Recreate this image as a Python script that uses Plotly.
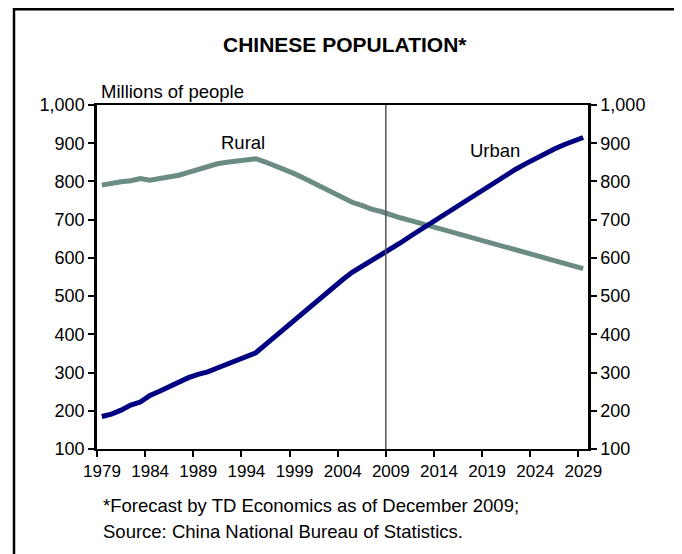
import plotly.graph_objects as go

# ---- data (millions of people) ----
years = list(range(1979, 2030))
urban = [184.95, 191.40, 201.71, 214.80, 222.74, 240.17, 250.94, 263.66, 276.74, 286.61,
         295.40, 301.95, 312.03, 321.75, 331.73, 341.69, 351.74, 373.04, 394.49, 416.08,
         437.48, 459.06, 480.64, 502.12, 523.76, 542.83, 562.12, 577.06, 593.79, 606.67,
         622, 639, 656, 672, 689, 706, 722, 739, 755, 771,
         787, 802, 817, 832, 846, 860, 873, 885, 896, 906, 915]
rural = [790.47, 795.65, 799.01, 801.74, 807.34, 803.40, 807.57, 811.41, 816.26, 823.65,
         831.64, 841.38, 846.20, 849.96, 853.44, 856.81, 859.47, 850.85, 841.77, 831.53,
         820.38, 808.37, 795.63, 782.41, 768.51, 757.05, 745.44, 737.42, 727.50, 721.35,
         712, 705, 698, 691, 684, 677, 670, 662, 655, 648,
         640, 633, 626, 619, 612, 605, 598, 591, 585, 578, 572]
forecast_start = 2009
tick_years = list(range(1979, 2030, 5))
y_ticks = list(range(100, 1001, 100))

URBAN_C = "#000080"
RURAL_C = "#6B8C84"
FONT = "Liberation Sans, Arial, sans-serif"

fig = go.Figure()
fig.add_trace(go.Scatter(x=years, y=rural, mode="lines", name="Rural",
                         line=dict(color=RURAL_C, width=5), hoverinfo="skip"))
fig.add_trace(go.Scatter(x=years, y=urban, mode="lines", name="Urban",
                         line=dict(color=URBAN_C, width=5), hoverinfo="skip"))
# invisible trace to anchor the right axis
fig.add_trace(go.Scatter(x=[years[0]], y=[urban[0]], yaxis="y2", mode="lines",
                         line=dict(width=0), showlegend=False, hoverinfo="skip"))

fig.add_shape(type="line", xref="x", yref="y",
              x0=forecast_start - 0.5, x1=forecast_start - 0.5,
              y0=y_ticks[0], y1=y_ticks[-1], line=dict(color="#555555", width=1.5))

# page body has an 8px margin; work in page coordinates
OFF = 8
W, H = 682 - OFF, 554 - OFF
L, R, T, B = 97 - OFF, 94, 105 - OFF, 105
pw, ph = W - L - R, H - T - B
def px(x): return (x - OFF - L) / pw
def py(y): return (H - B - (y - OFF)) / ph

fig.add_shape(type="rect", xref="paper", yref="paper",
              x0=px(14), x1=px(677), y0=py(620), y1=py(OFF + 1.2),
              line=dict(color="black", width=2.5), layer="above")

ann = []
ann.append(dict(text="<b>CHINESE POPULATION*</b>", xref="paper", yref="paper",
                x=px(345), y=py(45), xanchor="center", yanchor="middle", showarrow=False,
                font=dict(size=21, color="black")))
ann.append(dict(text="Millions of people", xref="paper", yref="paper", xanchor="left",
                yanchor="middle", x=px(99), y=py(92), showarrow=False,
                font=dict(size=18.5, color="black")))
ann.append(dict(text="Rural", xref="x", yref="y", x=1993.7, y=903, showarrow=False,
                xanchor="center", yanchor="middle", font=dict(size=18.5, color="black")))
ann.append(dict(text="Urban", xref="x", yref="y", x=2019.8, y=880, showarrow=False,
                xanchor="center", yanchor="middle", font=dict(size=18.5, color="black")))
ann.append(dict(text="*Forecast by TD Economics as of December 2009;", xref="paper", yref="paper",
                xanchor="left", yanchor="middle", x=px(101), y=py(505), showarrow=False,
                font=dict(size=18.5, color="black")))
ann.append(dict(text="Source: China National Bureau of Statistics.", xref="paper", yref="paper",
                xanchor="left", yanchor="middle", x=px(101), y=py(531), showarrow=False,
                font=dict(size=18.5, color="black")))

fig.update_layout(
    width=W, height=H,
    margin=dict(l=L, r=R, t=T, b=B, pad=0),
    paper_bgcolor="white", plot_bgcolor="white",
    showlegend=False,
    font=dict(family=FONT, size=18, color="black"),
    annotations=ann,
    xaxis=dict(range=[years[0] - 0.5, years[-1] + 0.5],
               tickmode="array", tickvals=[y - 0.5 for y in tick_years],
               ticktext=[str(y) for y in tick_years], ticklabelshift=5,
               tickfont=dict(size=17),
               ticks="outside", ticklen=6, tickwidth=2, tickcolor="black",
               showline=True, linecolor="black", linewidth=2, mirror=True,
               showgrid=False, zeroline=False, fixedrange=True),
    yaxis=dict(range=[y_ticks[0], y_ticks[-1]], tickmode="array", tickvals=y_ticks,
               ticktext=[f"{v:,}" for v in y_ticks],
               ticks="outside", ticklen=6, tickwidth=2, tickcolor="black",
               showline=True, linecolor="black", linewidth=2.5,
               showgrid=False, zeroline=False, fixedrange=True),
    yaxis2=dict(range=[y_ticks[0], y_ticks[-1]], tickmode="array", tickvals=y_ticks,
                ticktext=[f"{v:,}" for v in y_ticks], overlaying="y", side="right",
                ticks="outside", ticklen=6, tickwidth=2, tickcolor="black",
                showline=True, linecolor="black", linewidth=2.5,
                showgrid=False, zeroline=False, fixedrange=True),
)

fig.write_html("out.html")
